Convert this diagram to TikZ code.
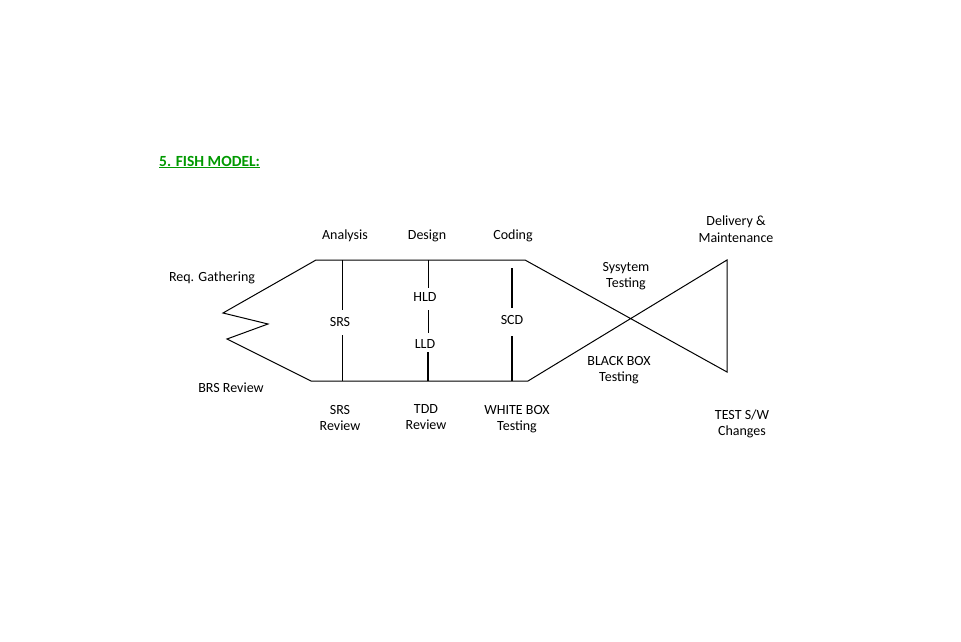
\documentclass[tikz,border=0pt]{standalone}
\usepackage{fontspec}
\setmainfont{Carlito}
\begin{document}
\begin{tikzpicture}[x=1pt,y=-1pt,
  lbl/.style={font=\fontsize{14}{16.5}\selectfont,align=center,inner sep=0pt},
  ln/.style={line width=1pt},
  thick line/.style={line width=2pt}]
\useasboundingbox (0,0) rectangle (961,642);
\node[lbl,anchor=west,text=green!60!black,font=\fontsize{15.5}{17}\selectfont\bfseries] (title) at (159,162) {\underline{5. FISH MODEL:}};
\coordinate (tl) at (316,260); \coordinate (tr) at (525,260);
\coordinate (m1) at (223,313); \coordinate (m2) at (268,324); \coordinate (m3) at (227,339);
\coordinate (bl) at (311,381); \coordinate (br) at (528,381);
\coordinate (t1) at (727,260); \coordinate (t2) at (727,372);
\draw[ln] (tr) -- (tl) -- (m1) -- (m2) -- (m3) -- (bl) -- (br) -- (t1) -- (t2) -- (tr);
\draw[ln] (342,260) -- (342,310);
\draw[ln] (342,335) -- (342,381);
\draw[ln] (428,260) -- (428,288);
\draw[ln] (428,310) -- (428,333);
\draw[thick line] (428,352) -- (428,381);
\draw[thick line] (512,268) -- (512,308);
\draw[thick line] (512,336) -- (512,381);
\node[lbl] (an) at (345,236) {Analysis};
\node[lbl] (de) at (427,236) {Design};
\node[lbl] (co) at (513,236) {Coding};
\node[lbl] (rg) at (212,278) {Req. Gathering};
\node[lbl] (brs) at (231,388) {BRS Review};
\node[lbl] (srs) at (340,322) {SRS};
\node[lbl] (hld) at (425,297) {HLD};
\node[lbl] (lld) at (425,344) {LLD};
\node[lbl] (scd) at (512,320) {SCD};
\node[lbl] (srsr) at (340,418) {SRS\\Review};
\node[lbl] (tdd) at (426,417) {TDD\\Review};
\node[lbl] (wb) at (517,419) {WHITE BOX\\Testing};
\node[lbl] (st) at (626,276) {Sysytem\\Testing};
\node[lbl] (bb) at (619,370) {BLACK BOX\\Testing};
\node[lbl] (dm) at (736,229) {Delivery \&\\Maintenance};
\node[lbl] (ts) at (742,424) {TEST S/W\\Changes};
\end{tikzpicture}
\end{document}
